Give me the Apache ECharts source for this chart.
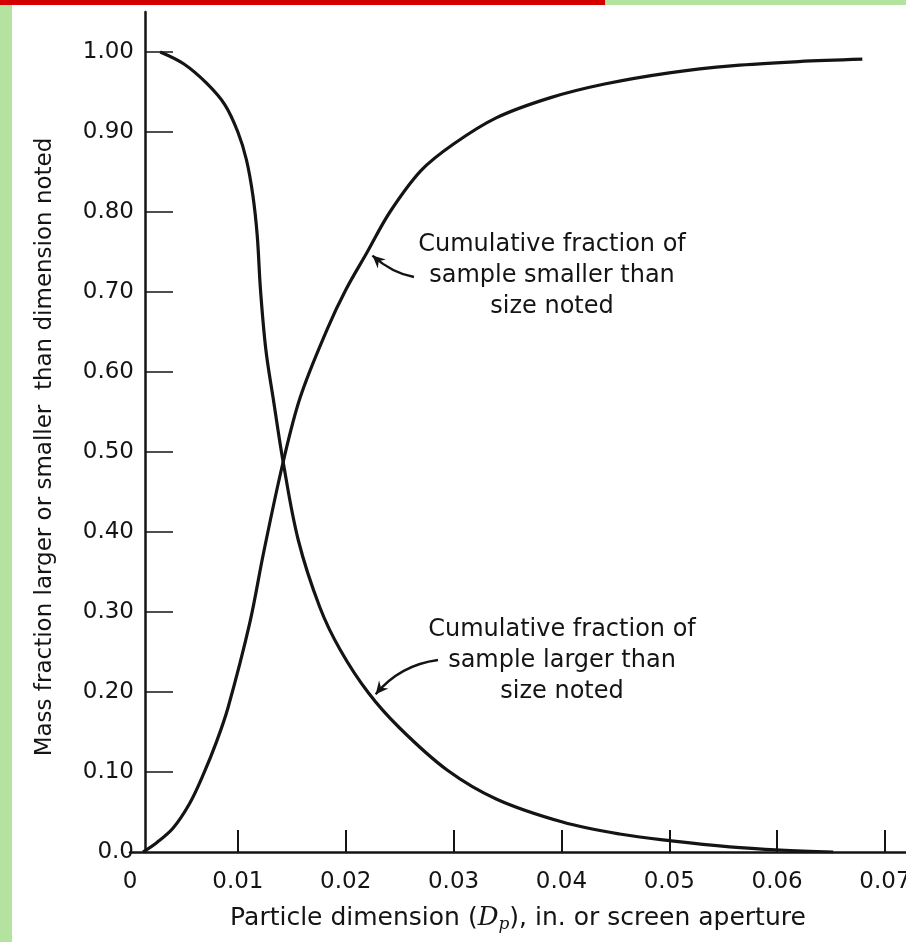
<!DOCTYPE html>
<html>
<head>
<meta charset="utf-8">
<script src="https://cdn.jsdelivr.net/npm/echarts@6/dist/echarts.min.js"></script>
<style>
  html, body { margin: 0; padding: 0; background: #fff; }
  #main { width: 906px; height: 942px; }
</style>
</head>
<body>
<div id="main"></div>
<script>
// particle size (in.) and cumulative fraction
const sizeSmaller = [0.0012, 0.0025, 0.0040, 0.0055, 0.0068, 0.0080, 0.0091, 0.0111, 0.0124, 0.0142, 0.0158, 0.0183, 0.0200, 0.0220, 0.0241, 0.0270, 0.0300, 0.0340, 0.0390, 0.0440, 0.0500, 0.0560, 0.0620, 0.0679]
const fracSmaller = [0, 0.012, 0.030, 0.060, 0.097, 0.137, 0.181, 0.286, 0.375, 0.4875, 0.569, 0.654, 0.7025, 0.75, 0.80, 0.852, 0.885, 0.918, 0.943, 0.960, 0.974, 0.983, 0.988, 0.991]

const sizeLarger = [0.0028, 0.0050, 0.0071, 0.0088, 0.0100, 0.0108, 0.0114, 0.0118, 0.0121, 0.0126, 0.0133, 0.0142, 0.0156, 0.0176, 0.0195, 0.0221, 0.0250, 0.0294, 0.0340, 0.0401, 0.0454, 0.0502, 0.0556, 0.0603, 0.0652]
const fracLarger = [1.0, 0.985, 0.961, 0.934, 0.900, 0.865, 0.82, 0.77, 0.7025, 0.6275, 0.565, 0.4875, 0.39, 0.306, 0.2525, 0.199, 0.155, 0.1025, 0.066, 0.0375, 0.0225, 0.014, 0.0065, 0.0025, 0]

const xTicks = [0.01, 0.02, 0.03, 0.04, 0.05, 0.06, 0.07]
const yTicks = [0.1, 0.2, 0.3, 0.4, 0.5, 0.6, 0.7, 0.8, 0.9, 1.0]

const labelSmaller = ['Cumulative fraction of', 'sample smaller than', 'size noted']
const labelLarger = ['Cumulative fraction of', 'sample larger than', 'size noted']
const yTitle = 'Mass fraction larger or smaller  than dimension noted'

const ink = '#141414'
const font = 'DejaVu Sans'

const chart = echarts.init(document.getElementById('main'))

function pairs(xs, ys) {
  return xs.map((x, i) => [x, ys[i]])
}

const option = {
  backgroundColor: '#fff',
  animation: false,
  grid: {
    left: 130,
    right: 0,
    top: 12,
    bottom: 90,
    containLabel: false,
    outerBoundsMode: 'none'
  },
  xAxis: {
    type: 'value',
    min: 0,
    max: 0.07195,
    interval: 0.01,
    name: '{n|Particle dimension (}{i|D}{s|p}{n|), in. or screen aperture}',
    nameLocation: 'middle',
    nameGap: 52,
    nameTextStyle: {
      rich: {
        n: { fontFamily: font, fontSize: 25, color: ink },
        i: { fontFamily: 'DejaVu Serif', fontStyle: 'italic', fontSize: 26, color: ink },
        s: { fontFamily: 'DejaVu Serif', fontStyle: 'italic', fontSize: 17, color: ink, padding: [12, 0, 0, 0] }
      }
    },
    splitLine: { show: false },
    axisLine: { lineStyle: { color: ink, width: 2.5 } },
    axisTick: {
      inside: true,
      length: 22,
      customValues: xTicks,
      lineStyle: { color: ink, width: 2 }
    },
    axisLabel: {
      margin: 19,
      showMaxLabel: false,
      fontFamily: font,
      fontSize: 23,
      color: ink,
      formatter: v => (v === 0 ? '0' : v.toFixed(2))
    }
  },
  yAxis: {
    type: 'value',
    min: 0,
    max: 1.05,
    interval: 0.1,
    offset: -15,
    splitLine: { show: false },
    axisLine: { lineStyle: { color: ink, width: 2.5 } },
    axisTick: {
      inside: true,
      length: 28,
      customValues: yTicks,
      lineStyle: { color: ink, width: 1.5 }
    },
    axisLabel: {
      margin: 11,
      showMaxLabel: false,
      fontFamily: font,
      fontSize: 23,
      color: ink,
      formatter: v => (v === 0 ? '0.0' : v.toFixed(2))
    }
  },
  series: [
    {
      name: 'smaller',
      type: 'line',
      data: pairs(sizeSmaller, fracSmaller),
      showSymbol: false,
      smooth: 0.35,
      lineStyle: { color: ink, width: 3.2 }
    },
    {
      name: 'larger',
      type: 'line',
      data: pairs(sizeLarger, fracLarger),
      showSymbol: false,
      smooth: 0.35,
      lineStyle: { color: ink, width: 3.2 }
    }
  ]
}

chart.setOption(option)

// annotations: text blocks and curved arrows pointing to the curves
function textBlock(lines, cx, y0) {
  return lines.map((t, i) => ({
    type: 'text',
    style: {
      text: t,
      x: cx,
      y: y0 + i * 31,
      align: 'center',
      verticalAlign: 'middle',
      fontFamily: font,
      fontSize: 24,
      fill: ink
    }
  }))
}

function arrow(from, ctrl, tip) {
  const ang = Math.atan2(tip[1] - ctrl[1], tip[0] - ctrl[0])
  const len = 14
  const wid = 0.45
  return [
    {
      type: 'bezierCurve',
      shape: { x1: from[0], y1: from[1], cpx1: ctrl[0], cpy1: ctrl[1], x2: tip[0], y2: tip[1] },
      style: { stroke: ink, lineWidth: 2.4, fill: null }
    },
    {
      type: 'polygon',
      shape: {
        points: [
          tip,
          [tip[0] - len * Math.cos(ang - wid), tip[1] - len * Math.sin(ang - wid)],
          [tip[0] - len * 0.6 * Math.cos(ang), tip[1] - len * 0.6 * Math.sin(ang)],
          [tip[0] - len * Math.cos(ang + wid), tip[1] - len * Math.sin(ang + wid)]
        ]
      },
      style: { fill: ink }
    }
  ]
}

const tip1 = chart.convertToPixel({ gridIndex: 0 }, [0.0222, 0.748])
const tip2 = chart.convertToPixel({ gridIndex: 0 }, [0.0225, 0.196])

chart.setOption({
  graphic: [
    { type: 'rect', z: 10, shape: { x: 0, y: 0, width: 12, height: 942 }, style: { fill: '#b3e39f' } },
    { type: 'rect', z: 10, shape: { x: 0, y: 0, width: 605, height: 5 }, style: { fill: '#d40000' } },
    { type: 'rect', z: 10, shape: { x: 605, y: 0, width: 301, height: 5 }, style: { fill: '#b3e39f' } },
    {
      type: 'text',
      x: 45,
      y: 447,
      rotation: Math.PI / 2,
      style: {
        text: yTitle,
        align: 'center',
        verticalAlign: 'middle',
        fontFamily: font,
        fontSize: 23,
        fill: ink
      }
    },
    ...textBlock(labelSmaller, 552, 245),
    ...textBlock(labelLarger, 562, 630),
    ...arrow([414, 277], [392, 273], [tip1[0] + 3, tip1[1] + 2]),
    ...arrow([438, 660], [400, 665], [tip2[0] + 3, tip2[1] - 1])
  ]
})
</script>
</body>
</html>
